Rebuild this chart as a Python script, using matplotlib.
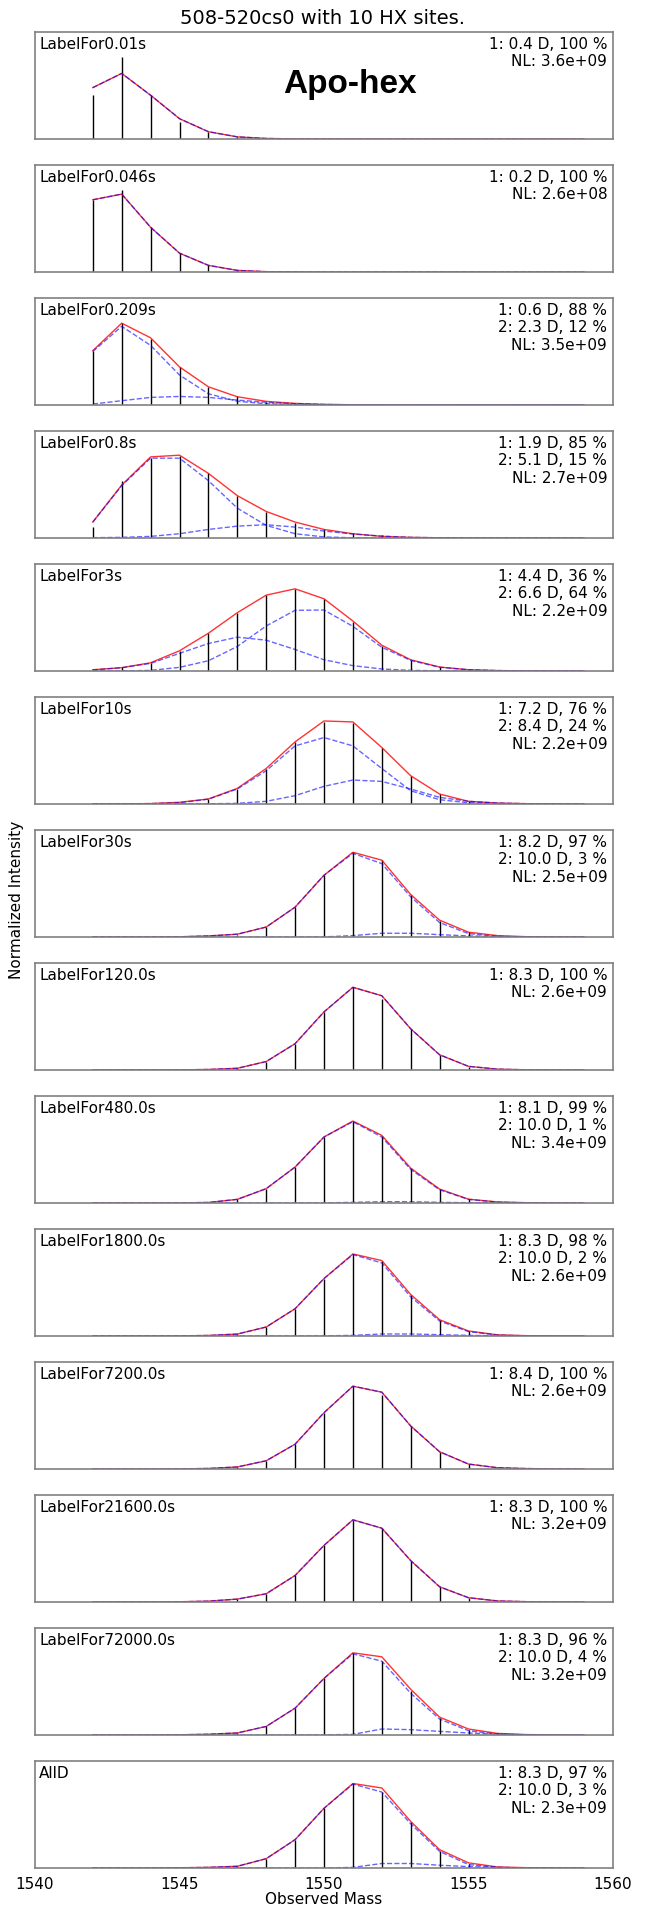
import numpy as np
import matplotlib
matplotlib.use('Agg')
import matplotlib.pyplot as plt

# observed masses of the isotope peaks
masses = np.arange(1542, 1560)

labels = ['LabelFor0.01s', 'LabelFor0.046s', 'LabelFor0.209s', 'LabelFor0.8s',
          'LabelFor3s', 'LabelFor10s', 'LabelFor30s', 'LabelFor120.0s',
          'LabelFor480.0s', 'LabelFor1800.0s', 'LabelFor7200.0s',
          'LabelFor21600.0s', 'LabelFor72000.0s', 'AllD']

fit_info = [
    ['1: 0.4 D, 100 %', 'NL: 3.6e+09'],
    ['1: 0.2 D, 100 %', 'NL: 2.6e+08'],
    ['1: 0.6 D, 88 %', '2: 2.3 D, 12 %', 'NL: 3.5e+09'],
    ['1: 1.9 D, 85 %', '2: 5.1 D, 15 %', 'NL: 2.7e+09'],
    ['1: 4.4 D, 36 %', '2: 6.6 D, 64 %', 'NL: 2.2e+09'],
    ['1: 7.2 D, 76 %', '2: 8.4 D, 24 %', 'NL: 2.2e+09'],
    ['1: 8.2 D, 97 %', '2: 10.0 D, 3 %', 'NL: 2.5e+09'],
    ['1: 8.3 D, 100 %', 'NL: 2.6e+09'],
    ['1: 8.1 D, 99 %', '2: 10.0 D, 1 %', 'NL: 3.4e+09'],
    ['1: 8.3 D, 98 %', '2: 10.0 D, 2 %', 'NL: 2.6e+09'],
    ['1: 8.4 D, 100 %', 'NL: 2.6e+09'],
    ['1: 8.3 D, 100 %', 'NL: 3.2e+09'],
    ['1: 8.3 D, 96 %', '2: 10.0 D, 4 %', 'NL: 3.2e+09'],
    ['1: 8.3 D, 97 %', '2: 10.0 D, 3 %', 'NL: 2.3e+09'],
]

# measured (normalized) intensities, masses 1542..1559
sticks = [
    [0.409, 0.768, 0.409, 0.155, 0.062, 0.015, 0.004, 0, 0, 0, 0, 0, 0, 0, 0, 0, 0, 0],
    [0.675, 0.768, 0.418, 0.176, 0.062, 0.015, 0.003, 0, 0, 0, 0, 0, 0, 0, 0, 0, 0, 0],
    [0.508, 0.765, 0.619, 0.356, 0.170, 0.080, 0.031, 0.010, 0.003, 0, 0, 0, 0, 0, 0, 0, 0, 0],
    [0.102, 0.529, 0.752, 0.768, 0.604, 0.396, 0.241, 0.142, 0.080, 0.050, 0.025, 0.010, 0.003, 0, 0, 0, 0, 0],
    [0.010, 0.034, 0.074, 0.189, 0.353, 0.539, 0.709, 0.768, 0.669, 0.458, 0.235, 0.102, 0.034, 0.010, 0.003, 0, 0, 0],
    [0, 0.001, 0.003, 0.009, 0.047, 0.140, 0.326, 0.581, 0.770, 0.761, 0.519, 0.264, 0.093, 0.031, 0.009, 0.003, 0, 0],
    [0, 0, 0, 0, 0.003, 0.022, 0.093, 0.279, 0.577, 0.792, 0.718, 0.391, 0.151, 0.045, 0.013, 0.003, 0, 0],
    [0, 0, 0, 0, 0.003, 0.016, 0.079, 0.246, 0.543, 0.773, 0.662, 0.379, 0.142, 0.032, 0.006, 0.001, 0, 0],
    [0, 0, 0, 0, 0.004, 0.034, 0.134, 0.336, 0.617, 0.766, 0.626, 0.324, 0.128, 0.034, 0.009, 0.003, 0, 0],
    [0, 0, 0, 0, 0.004, 0.016, 0.084, 0.255, 0.537, 0.767, 0.699, 0.382, 0.149, 0.047, 0.009, 0.003, 0, 0],
    [0, 0, 0, 0, 0.004, 0.019, 0.077, 0.232, 0.526, 0.774, 0.687, 0.402, 0.161, 0.046, 0.012, 0.004, 0, 0],
    [0, 0, 0, 0, 0.006, 0.025, 0.077, 0.248, 0.529, 0.768, 0.690, 0.387, 0.142, 0.040, 0.009, 0.003, 0, 0],
    [0, 0, 0, 0, 0.006, 0.019, 0.080, 0.251, 0.529, 0.768, 0.690, 0.412, 0.155, 0.050, 0.015, 0.004, 0, 0],
    [0, 0, 0, 0, 0.003, 0.016, 0.087, 0.265, 0.558, 0.790, 0.710, 0.429, 0.161, 0.042, 0.010, 0.003, 0, 0],
]

# total fitted envelope (red)
fits = [
    [0.480, 0.613, 0.409, 0.190, 0.068, 0.020, 0.005, 0.001, 0, 0, 0, 0, 0, 0, 0, 0, 0, 0],
    [0.675, 0.728, 0.418, 0.176, 0.062, 0.015, 0.003, 0.001, 0, 0, 0, 0, 0, 0, 0, 0, 0, 0],
    [0.508, 0.765, 0.628, 0.356, 0.170, 0.077, 0.034, 0.015, 0.006, 0.002, 0, 0, 0, 0, 0, 0, 0, 0],
    [0.149, 0.495, 0.758, 0.774, 0.604, 0.396, 0.248, 0.149, 0.080, 0.040, 0.015, 0.006, 0.002, 0, 0, 0, 0, 0],
    [0.012, 0.031, 0.077, 0.189, 0.353, 0.545, 0.709, 0.768, 0.675, 0.467, 0.241, 0.105, 0.037, 0.012, 0.004, 0.001, 0, 0],
    [0, 0.001, 0.004, 0.016, 0.047, 0.146, 0.332, 0.581, 0.776, 0.767, 0.528, 0.264, 0.093, 0.025, 0.009, 0.003, 0.001, 0],
    [0, 0, 0, 0.002, 0.010, 0.026, 0.093, 0.279, 0.577, 0.792, 0.718, 0.397, 0.157, 0.045, 0.013, 0.003, 0, 0],
    [0, 0, 0, 0.001, 0.005, 0.016, 0.079, 0.246, 0.543, 0.773, 0.694, 0.385, 0.142, 0.034, 0.008, 0.002, 0, 0],
    [0, 0, 0, 0.001, 0.005, 0.034, 0.134, 0.336, 0.617, 0.766, 0.632, 0.326, 0.130, 0.036, 0.010, 0.003, 0.001, 0],
    [0, 0, 0, 0.001, 0.005, 0.018, 0.084, 0.255, 0.537, 0.767, 0.705, 0.388, 0.152, 0.047, 0.011, 0.003, 0.001, 0],
    [0, 0, 0, 0.001, 0.005, 0.019, 0.077, 0.232, 0.526, 0.774, 0.718, 0.402, 0.161, 0.046, 0.012, 0.004, 0.001, 0],
    [0, 0, 0, 0.002, 0.008, 0.027, 0.077, 0.248, 0.529, 0.768, 0.690, 0.387, 0.142, 0.040, 0.010, 0.003, 0.001, 0],
    [0, 0, 0, 0.002, 0.007, 0.019, 0.080, 0.251, 0.529, 0.768, 0.731, 0.427, 0.167, 0.056, 0.015, 0.004, 0.001, 0],
    [0, 0, 0, 0.002, 0.006, 0.016, 0.087, 0.265, 0.558, 0.790, 0.748, 0.435, 0.171, 0.048, 0.010, 0.003, 0.001, 0],
]

# individual components (blue dashed); None -> single population = fit
comp1 = [
    None,
    None,
    [0.500, 0.735, 0.557, 0.280, 0.105, 0.035, 0.012, 0.004, 0.001, 0, 0, 0, 0, 0, 0, 0, 0, 0],
    [0.149, 0.489, 0.746, 0.746, 0.536, 0.279, 0.118, 0.040, 0.010, 0.002, 0, 0, 0, 0, 0, 0, 0, 0],
    [0.009, 0.031, 0.071, 0.165, 0.257, 0.316, 0.288, 0.201, 0.105, 0.050, 0.019, 0.006, 0.002, 0, 0, 0, 0, 0],
    [0, 0.001, 0.004, 0.012, 0.045, 0.140, 0.311, 0.543, 0.621, 0.543, 0.332, 0.124, 0.040, 0.012, 0.003, 0, 0, 0],
    [0, 0, 0, 0.002, 0.010, 0.026, 0.093, 0.279, 0.577, 0.782, 0.686, 0.375, 0.135, 0.032, 0.006, 0.001, 0, 0],
    None,
    [0, 0, 0, 0.001, 0.005, 0.034, 0.134, 0.336, 0.617, 0.760, 0.617, 0.314, 0.124, 0.033, 0.008, 0.002, 0, 0],
    [0, 0, 0, 0.001, 0.005, 0.018, 0.084, 0.255, 0.537, 0.761, 0.683, 0.366, 0.140, 0.041, 0.009, 0.002, 0, 0],
    None,
    None,
    [0, 0, 0, 0.002, 0.007, 0.019, 0.080, 0.251, 0.529, 0.759, 0.690, 0.390, 0.149, 0.040, 0.008, 0.002, 0, 0],
    [0, 0, 0, 0.002, 0.006, 0.016, 0.087, 0.265, 0.558, 0.784, 0.710, 0.413, 0.155, 0.032, 0.006, 0.001, 0, 0],
]

comp2 = [
    None,
    None,
    [0.009, 0.040, 0.071, 0.080, 0.071, 0.046, 0.025, 0.012, 0.005, 0.002, 0, 0, 0, 0, 0, 0, 0, 0],
    [0.003, 0.006, 0.015, 0.040, 0.080, 0.111, 0.124, 0.102, 0.065, 0.037, 0.018, 0.006, 0.002, 0, 0, 0, 0, 0],
    [0, 0, 0.006, 0.034, 0.096, 0.229, 0.421, 0.567, 0.570, 0.417, 0.222, 0.099, 0.035, 0.012, 0.004, 0.001, 0, 0],
    [0, 0, 0, 0.001, 0.002, 0.006, 0.025, 0.078, 0.165, 0.224, 0.211, 0.140, 0.062, 0.025, 0.009, 0.003, 0.001, 0],
    [0, 0, 0, 0, 0, 0, 0, 0, 0.001, 0.013, 0.035, 0.035, 0.022, 0.010, 0.004, 0.001, 0, 0],
    None,
    [0, 0, 0, 0, 0, 0, 0, 0, 0.001, 0.006, 0.012, 0.012, 0.006, 0.003, 0.001, 0, 0, 0],
    [0, 0, 0, 0, 0, 0, 0, 0, 0.001, 0.006, 0.019, 0.019, 0.012, 0.006, 0.002, 0.001, 0, 0],
    None,
    None,
    [0, 0, 0, 0, 0, 0, 0, 0, 0.001, 0.006, 0.056, 0.050, 0.034, 0.019, 0.007, 0.002, 0, 0],
    [0, 0, 0, 0, 0, 0, 0, 0, 0, 0.006, 0.042, 0.042, 0.026, 0.013, 0.005, 0.001, 0, 0],
]

W, H = 645, 1906
fig = plt.figure(figsize=(W / 100, H / 100), dpi=100)

left, width = 35, 578
top0, step, height = 33, 133, 107

n = len(labels)
for i in range(n):
    top = top0 + step * i
    ax = fig.add_axes([left / W, 1 - (top + height) / H, width / W, height / H])

    ax.vlines(masses, 0, sticks[i], color='k', lw=1.0)
    ax.plot(masses, fits[i], color='r', lw=1.0, alpha=0.8)
    if comp1[i] is None:
        ax.plot(masses, fits[i], 'b--', lw=1.0, alpha=0.6)
    else:
        ax.plot(masses, comp1[i], 'b--', lw=1.0, alpha=0.6)
        ax.plot(masses, comp2[i], 'b--', lw=1.0, alpha=0.6)

    ax.set_xlim(1540, 1560)
    ax.set_ylim(0, 1)
    ax.set_yticks([])
    ax.tick_params(axis='x', length=0, labelsize=11, pad=6)
    for s in ax.spines.values():
        s.set_color('0.5')
        s.set_linewidth(1.2)

    ax.text(0.007, 0.965, labels[i], transform=ax.transAxes, ha='left', va='top', fontsize=11)
    ax.text(0.99, 0.965, '\n'.join(fit_info[i]), transform=ax.transAxes,
            ha='right', va='top', fontsize=11, multialignment='right')

    if i < n - 1:
        ax.set_xticklabels([])
    else:
        ax.set_xticks([1540, 1545, 1550, 1555, 1560])
        ax.set_xlabel('Observed Mass', fontsize=11, labelpad=0)

    if i == 0:
        ax.text(0.545, 0.52, 'Apo-hex', transform=ax.transAxes, ha='center', va='center',
                fontsize=24, fontweight='bold', family='Liberation Sans')

fig.text(0.5, 1 - 18 / H, '508-520cs0 with 10 HX sites.', ha='center', va='center', fontsize=14)
fig.text(17 / W, 1 - 900 / H, 'Normalized Intensity', rotation=90, ha='center', va='center', fontsize=11)

fig.savefig('out.png', dpi=100)
